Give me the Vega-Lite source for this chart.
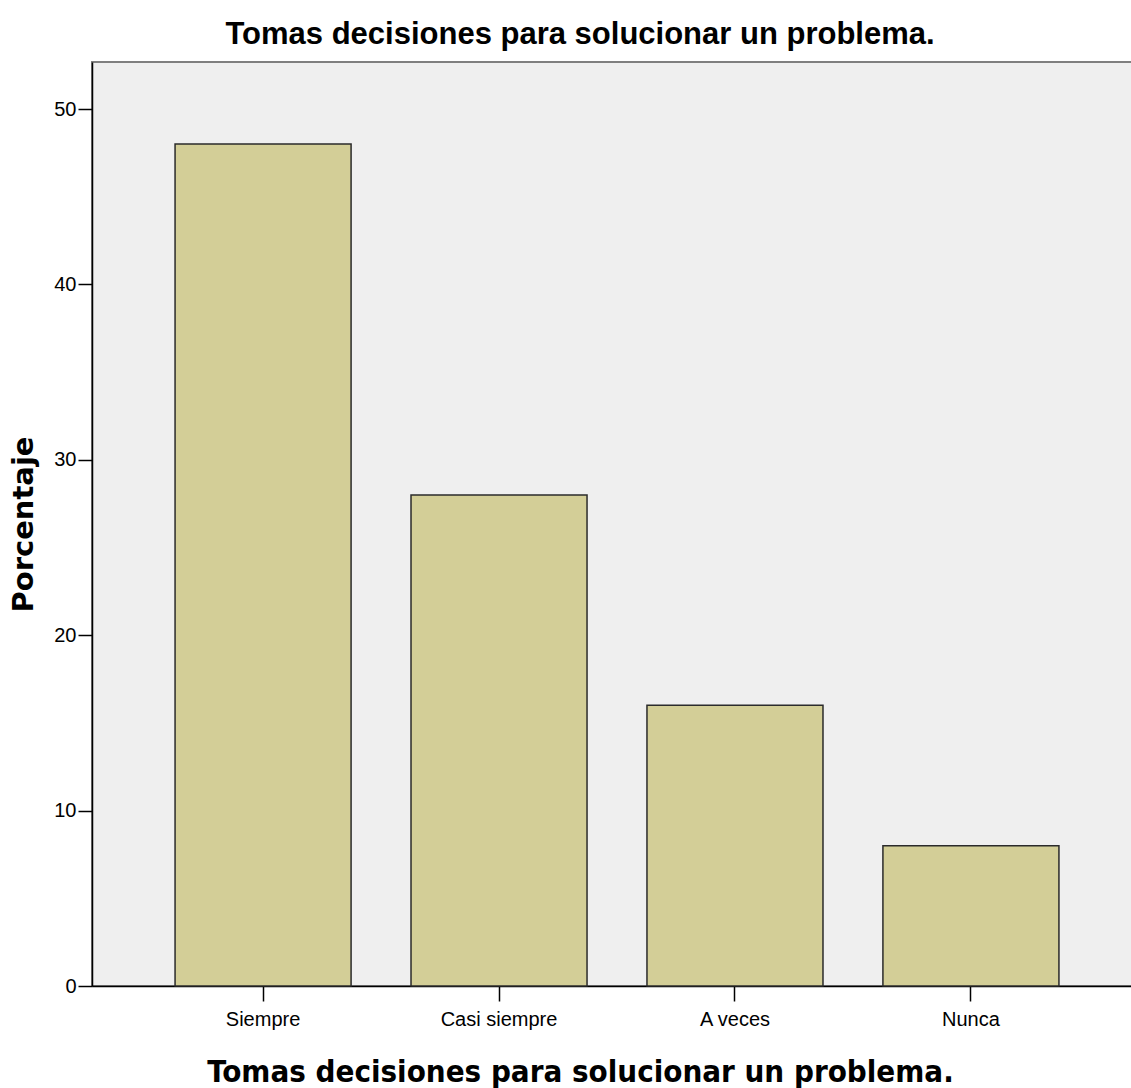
{
  "$schema": "https://vega.github.io/schema/vega-lite/v6.json",
  "autosize": "none",
  "padding": {"left": 92, "top": 62, "right": 0, "bottom": 102},
  "width": 1050,
  "height": 924,
  "background": "white",
  "title": {
    "text": "Tomas decisiones para solucionar un problema.",
    "anchor": "middle",
    "dx": -37,
    "dy": 32,
    "offset": 12,
    "baseline": "bottom",
    "font": "Liberation Sans",
    "fontSize": 31,
    "fontWeight": "bold",
    "color": "#000000"
  },
  "config": {
    "view": {"fill": "#efefef", "stroke": "#7f7f7f", "strokeWidth": 2}
  },
  "data": {
    "values": [
      {"categoria": "Siempre", "porcentaje": 48},
      {"categoria": "Casi siempre", "porcentaje": 28},
      {"categoria": "A veces", "porcentaje": 16},
      {"categoria": "Nunca", "porcentaje": 8}
    ]
  },
  "mark": {"type": "bar", "fill": "#d3ce97", "stroke": "#2b2b2b", "strokeWidth": 1.5},
  "encoding": {
    "x": {
      "field": "categoria",
      "type": "nominal",
      "sort": ["Siempre", "Casi siempre", "A veces", "Nunca"],
      "scale": {"paddingInner": 0.254, "paddingOuter": 0.352},
      "axis": {
        "title": "Tomas decisiones para solucionar un problema.",
        "titleFont": "DejaVu Sans Condensed",
        "titleFontSize": 31,
        "titleFontWeight": "bold",
        "titleColor": "#000000",
        "titleX": 488,
        "titleY": 95,
        "titleAlign": "center",
        "titleBaseline": "alphabetic",
        "labelAngle": 0,
        "labelFont": "Liberation Sans",
        "labelFontSize": 20,
        "labelColor": "#000000",
        "labelPadding": 8,
        "tickSize": 15,
        "tickColor": "#000000",
        "tickWidth": 1.5,
        "domainColor": "#000000",
        "domainWidth": 1.5
      }
    },
    "y": {
      "field": "porcentaje",
      "type": "quantitative",
      "scale": {"domain": [0, 52.68], "nice": false},
      "axis": {
        "values": [0, 10, 20, 30, 40, 50],
        "title": "Porcentaje",
        "titleFont": "DejaVu Sans",
        "titleFontSize": 29,
        "titleFontWeight": "bold",
        "titleColor": "#000000",
        "titleX": -60,
        "titleY": 462,
        "titleAngle": 270,
        "titleAlign": "center",
        "titleBaseline": "alphabetic",
        "grid": false,
        "labelFont": "Liberation Sans",
        "labelFontSize": 20,
        "labelColor": "#000000",
        "labelPadding": 2,
        "tickSize": 14,
        "tickColor": "#000000",
        "tickWidth": 1.5,
        "domainColor": "#000000",
        "domainWidth": 1.5
      }
    }
  }
}
